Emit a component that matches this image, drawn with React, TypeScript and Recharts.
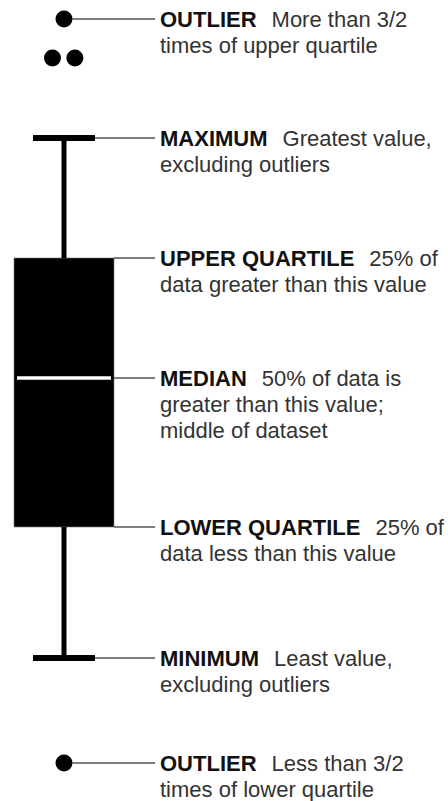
import React from "react";
import { ComposedChart, XAxis, YAxis, Scatter, ReferenceArea, ReferenceLine } from "recharts";

// ---- data ----
const groupX = 1;
// five-number summary: minimum, lower quartile, median, upper quartile, maximum
const statValues = [14.3, 27.4, 42.3, 54.3, 66.3];
const upperOutliers = [
  { x: 1, y: 78.2 },
  { x: 0.82, y: 74.3 },
  { x: 1.17, y: 74.3 },
];
const lowerOutliers = [{ x: 1, y: 3.8 }];

const labelTitles = ["OUTLIER", "MAXIMUM", "UPPER QUARTILE", "MEDIAN", "LOWER QUARTILE", "MINIMUM", "OUTLIER"];
const labelLines = [
  ["More than 3/2", "times of upper quartile"],
  ["Greatest value,", "excluding outliers"],
  ["25% of", "data greater than this value"],
  ["50% of data is", "greater than this value;", "middle of dataset"],
  ["25% of", "data less than this value"],
  ["Least value,", "excluding outliers"],
  ["Less than 3/2", "times of lower quartile"],
];

const [minV, q1V, medV, q3V, maxV] = statValues;
const labelValues = [upperOutliers[0].y, maxV, q3V, medV, q1V, minV, lowerOutliers[0].y];

// ---- layout constants ----
const W = 448;
const H = 801;
const X_DOMAIN: [number, number] = [0, 7];
const UNIT = W / (X_DOMAIN[1] - X_DOMAIN[0]);
const BOX_HALF = 50 / UNIT;
const CAP_HALF = 31 / UNIT;
const MED_HALF = 47 / UNIT;
const DOT_R = 8.5;
const LEADER_END = 155 / UNIT;
const TEXT_X = 160 / UNIT;
const FONT = "'Liberation Sans', Arial, Helvetica, sans-serif";
const FONT_SIZE = 22;
const LINE_H = 26;

const labelData = labelTitles.map((t, i) => ({ x: TEXT_X, y: labelValues[i], title: t, lines: labelLines[i] }));

const leaderStarts = [
  groupX + DOT_R / UNIT,
  groupX + CAP_HALF,
  groupX + BOX_HALF,
  groupX + BOX_HALF,
  groupX + BOX_HALF,
  groupX + CAP_HALF,
  groupX + DOT_R / UNIT,
];

const Dot = (p: any) => <circle cx={p.cx} cy={p.cy} r={DOT_R} fill="#000" />;

const LabelShape = (p: any) => {
  const { cx, cy, payload } = p;
  const base = cy + 8;
  return (
    <g>
      <text x={cx} y={base} fontFamily={FONT} fontSize={FONT_SIZE}>
        <tspan fontWeight="bold" fill="#111">{payload.title}</tspan>
        <tspan dx={15} fill="#333">{payload.lines[0]}</tspan>
      </text>
      {payload.lines.slice(1).map((l: string, i: number) => (
        <text key={i} x={cx} y={base + LINE_H * (i + 1)} fontFamily={FONT} fontSize={FONT_SIZE} fill="#333">
          {l}
        </text>
      ))}
    </g>
  );
};

export default function App() {
  return (
    <div style={{ width: W, height: H }}>
      <style>{"body{margin:0}"}</style>
      <ComposedChart width={W} height={H} margin={{ top: 1, right: 0, bottom: 0, left: 0 }}>
        <XAxis type="number" dataKey="x" domain={X_DOMAIN} hide allowDataOverflow />
        <YAxis type="number" dataKey="y" domain={[0, 80]} hide allowDataOverflow />
        {labelValues.map((v, i) => (
          <ReferenceLine
            key={"lead" + i}
            segment={[
              { x: leaderStarts[i], y: v },
              { x: LEADER_END, y: v },
            ]}
            stroke="#555"
            strokeWidth={1.5}
            ifOverflow="visible"
          />
        ))}
        <ReferenceLine
          segment={[{ x: groupX, y: minV }, { x: groupX, y: q1V }]}
          stroke="#000"
          strokeWidth={5}
          ifOverflow="visible"
        />
        <ReferenceLine
          segment={[{ x: groupX, y: q3V }, { x: groupX, y: maxV }]}
          stroke="#000"
          strokeWidth={5}
          ifOverflow="visible"
        />
        <ReferenceLine
          segment={[{ x: groupX - CAP_HALF, y: maxV }, { x: groupX + CAP_HALF, y: maxV }]}
          stroke="#000"
          strokeWidth={6}
          ifOverflow="visible"
        />
        <ReferenceLine
          segment={[{ x: groupX - CAP_HALF, y: minV }, { x: groupX + CAP_HALF, y: minV }]}
          stroke="#000"
          strokeWidth={6}
          ifOverflow="visible"
        />
        <ReferenceArea
          x1={groupX - BOX_HALF}
          x2={groupX + BOX_HALF}
          y1={q1V}
          y2={q3V}
          fill="#000"
          fillOpacity={1}
          stroke="#777"
          strokeWidth={0.6}
          ifOverflow="visible"
        />
        <ReferenceLine
          segment={[{ x: groupX - MED_HALF, y: medV }, { x: groupX + MED_HALF, y: medV }]}
          stroke="#fff"
          strokeWidth={3.5}
          ifOverflow="visible"
        />
        <Scatter data={upperOutliers} shape={Dot} isAnimationActive={false} />
        <Scatter data={lowerOutliers} shape={Dot} isAnimationActive={false} />
        <Scatter data={labelData} shape={LabelShape} isAnimationActive={false} />
      </ComposedChart>
    </div>
  );
}
